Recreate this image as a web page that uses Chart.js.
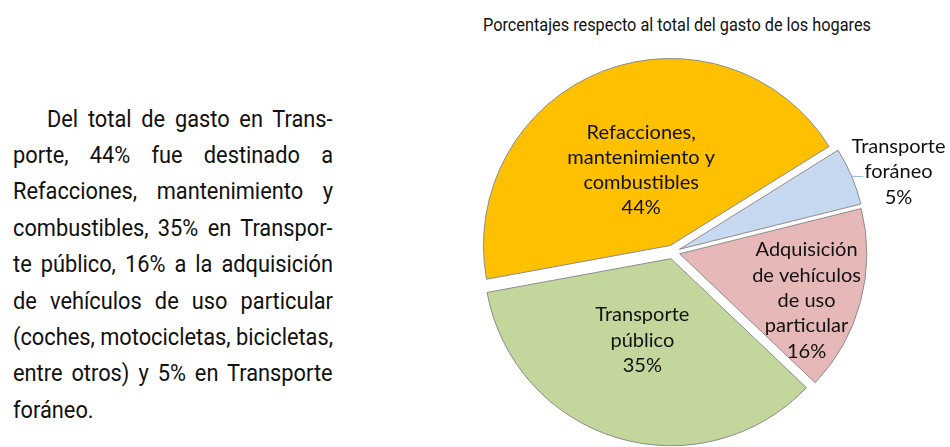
<!DOCTYPE html>
<html lang="es">
<head>
<meta charset="utf-8">
<script src="https://cdn.jsdelivr.net/npm/chart.js@4.4.1/dist/chart.umd.min.js"></script>
<style>
  html, body { margin: 0; padding: 0; background: #fff; }
  body { width: 950px; height: 447px; position: relative; overflow: hidden; font-family: Roboto, sans-serif; color: #111; }
  .linea { position: absolute; white-space: nowrap; transform-origin: 0 0; font: 24px Roboto, sans-serif; line-height: 36px; }
  #titulo { position: absolute; left: 483px; top: 14px; white-space: nowrap; transform-origin: 0 0; font: 18px Roboto, sans-serif; line-height: 22px; }
  #grafica { position: absolute; left: 400px; top: 0; width: 550px; height: 447px; }
</style>
</head>
<body>
<div id="texto"></div>
<div id="titulo">Porcentajes respecto al total del gasto de los hogares</div>
<div id="grafica"><canvas id="pastel"></canvas></div>
<script>
// Datos
const categorias = [
    ['Refacciones,', 'mantenimiento y', 'combustibles'],
    ['Transporte', 'foráneo'],
    ['Adquisición', 'de vehículos', 'de uso', 'particular'],
    ['Transporte', 'público']
];
const porcentajes = [44, 5, 16, 35];
const colores = ['#FFC000', '#C6D9F1', '#E6B9B8', '#C3D69B'];

const parrafo = [
    'Del total de gasto en Trans-',
    'porte, 44% fue destinado a',
    'Refacciones, mantenimiento y',
    'combustibles, 35% en Transpor-',
    'te público, 16% a la adquisición',
    'de vehículos de uso particular',
    '(coches, motocicletas, bicicletas,',
    'entre otros) y 5% en Transporte',
    'foráneo.'
];

document.addEventListener('DOMContentLoaded', function() {
    // Texto justificado de la izquierda
    const medidor = document.createElement('canvas').getContext('2d');
    medidor.font = '24px Roboto';
    const izq = 13, ancho = 320, sangria = 34;
    const disp = parrafo.map((t, i) => ancho - (i === 0 ? sangria : 0));
    const nat = parrafo.map(t => medidor.measureText(t).width);
    let escala = 1;
    for (let i = 0; i < parrafo.length - 1; i++) escala = Math.min(escala, disp[i] / nat[i]);
    const caja = document.getElementById('texto');
    parrafo.forEach((t, i) => {
        const d = document.createElement('div');
        d.className = 'linea';
        d.textContent = t;
        d.style.left = (izq + (i === 0 ? sangria : 0)) + 'px';
        d.style.top = (100.5 + 36.4 * i) + 'px';
        d.style.transform = 'scaleX(' + escala + ')';
        if (i < parrafo.length - 1) {
            const espacios = t.split(' ').length - 1;
            d.style.wordSpacing = ((disp[i] / escala - nat[i]) / espacios) + 'px';
        }
        caja.appendChild(d);
    });

    // Título condensado
    const titulo = document.getElementById('titulo');
    medidor.font = '18px Roboto';
    titulo.style.transform = 'scaleX(' + (388 / medidor.measureText(titulo.textContent).width) + ')';

    // Separación de las rebanadas (estilo "explotado")
    const separacion = 7;
    const explotar = {
        id: 'explotar',
        beforeDatasetsDraw(chart) {
            const ca = chart.chartArea;
            const cx = (ca.left + ca.right) / 2, cy = (ca.top + ca.bottom) / 2;
            chart.getDatasetMeta(0).data.forEach(arc => {
                const mid = (arc.startAngle + arc.endAngle) / 2;
                arc.x = cx + Math.cos(mid) * separacion;
                arc.y = cy + Math.sin(mid) * separacion;
            });
        }
    };

    // Etiquetas de cada rebanada
    const posRadio = [0.47, 1.28, 0.76, 0.5];
    const posAngulo = [0.5, 0.69, 0.59, 0.52];
    const etiquetas = {
        id: 'etiquetas',
        afterDatasetsDraw(chart) {
            const ctx = chart.ctx;
            const ca = chart.chartArea;
            const cx = (ca.left + ca.right) / 2, cy = (ca.top + ca.bottom) / 2;
            ctx.save();
            ctx.font = '20px Lato';
            ctx.fillStyle = '#111';
            ctx.textAlign = 'center';
            ctx.textBaseline = 'middle';
            chart.getDatasetMeta(0).data.forEach((arc, i) => {
                const a = arc.startAngle + (arc.endAngle - arc.startAngle) * posAngulo[i];
                const r = arc.outerRadius * posRadio[i];
                const px = cx + Math.cos(a) * r, py = cy + Math.sin(a) * r;
                const lineas = categorias[i].concat(porcentajes[i] + '%');
                const lh = 25.3;
                lineas.forEach((t, j) => {
                    ctx.fillText(t, px, py + (j - (lineas.length - 1) / 2) * lh);
                });
                if (posRadio[i] > 1) {
                    const mid = (arc.startAngle + arc.endAngle) / 2;
                    const x0 = arc.x + Math.cos(mid) * arc.outerRadius;
                    const y0 = arc.y + Math.sin(mid) * arc.outerRadius;
                    const izqTexto = px - ctx.measureText(lineas[1]).width / 2;
                    ctx.strokeStyle = '#95B3D7';
                    ctx.lineWidth = 1;
                    ctx.beginPath();
                    ctx.moveTo(x0, y0);
                    ctx.lineTo(izqTexto - 1, py + 5);
                    ctx.stroke();
                }
            });
            ctx.restore();
        }
    };

    const config = {
        type: 'pie',
        data: {
            labels: categorias,
            datasets: [{
                data: porcentajes,
                backgroundColor: colores,
                borderColor: '#8c8c8c',
                borderWidth: 1,
                clip: false
            }]
        },
        options: {
            responsive: true,
            maintainAspectRatio: false,
            animation: false,
            events: [],
            radius: 187,
            rotation: 259.6,
            layout: { padding: { top: 57, right: 4, bottom: 0, left: 0 } },
            plugins: {
                legend: { display: false },
                tooltip: { enabled: false }
            }
        },
        plugins: [explotar, etiquetas]
    };

    new Chart(document.getElementById('pastel'), config);
});
</script>
</body>
</html>
